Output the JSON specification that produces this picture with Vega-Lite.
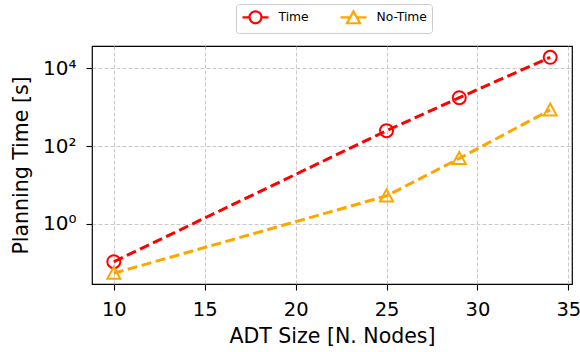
{
  "$schema": "https://vega.github.io/schema/vega-lite/v6.json",
  "autosize": "none",
  "width": 480,
  "height": 238,
  "padding": {"left": 92, "top": 46, "right": 8, "bottom": 68},
  "background": "white",
  "config": {
    "font": "DejaVu Sans",
    "view": {"stroke": "black", "strokeWidth": 1.2},
    "axis": {
      "domain": false,
      "grid": true,
      "gridColor": "#c4c4c4",
      "gridDash": [4, 2],
      "gridWidth": 0.9,
      "tickColor": "black",
      "tickSize": 6,
      "tickWidth": 1.1,
      "labelColor": "black",
      "titleColor": "black",
      "labelFont": "DejaVu Sans",
      "titleFont": "DejaVu Sans",
      "titleFontWeight": "normal"
    }
  },
  "data": {
    "values": [
      {"series": "Time", "size": 10, "time": 0.105},
      {"series": "Time", "size": 25, "time": 248},
      {"series": "Time", "size": 29, "time": 1750},
      {"series": "Time", "size": 34, "time": 19200},
      {"series": "No-Time", "size": 10, "time": 0.053},
      {"series": "No-Time", "size": 25, "time": 5.2},
      {"series": "No-Time", "size": 29, "time": 48},
      {"series": "No-Time", "size": 34, "time": 845}
    ]
  },
  "encoding": {
    "x": {
      "field": "size",
      "type": "quantitative",
      "scale": {"domain": [8.8, 35.2], "nice": false, "zero": false},
      "axis": {
        "title": "ADT Size [N. Nodes]",
        "values": [10, 15, 20, 25, 30, 35],
        "labelFontSize": 19.5,
        "titleFontSize": 20.5,
        "labelPadding": 10,
        "titlePadding": 8,
        "labelFlush": false
      }
    },
    "y": {
      "field": "time",
      "type": "quantitative",
      "scale": {"type": "log", "domain": [0.02805, 37500], "nice": false},
      "axis": {
        "title": "Planning Time [s]",
        "values": [1, 100, 10000],
        "labelExpr": "datum.value == 1 ? '10⁰' : datum.value == 100 ? '10²' : '10⁴'",
        "labelFontSize": 20,
        "titleFontSize": 20.5,
        "labelPadding": 10,
        "titlePadding": 11,
        "labelFlush": false
      }
    },
    "color": {
      "field": "series",
      "type": "nominal",
      "scale": {"domain": ["Time", "No-Time"], "range": ["#ff0000", "#ffa500"]},
      "legend": {
        "title": null,
        "orient": "none",
        "direction": "horizontal",
        "legendX": 144,
        "legendY": -42,
        "padding": 5,
        "strokeColor": "#cccccc",
        "fillColor": "white",
        "cornerRadius": 3,
        "labelFontSize": 12.3,
        "labelFont": "DejaVu Sans",
        "labelColor": "black",
        "labelOffset": 21.5,
        "columnPadding": 27,
        "symbolSize": 169,
        "symbolStrokeWidth": 2,
        "symbolDash": [],
        "encode": {
          "symbols": {
            "update": {
              "shape": {"signal": "datum.value == 'Time' ? 'M-1,0H0.08M1.92,0H3M1.92,0A0.92,0.92,0,1,1,0.08,0A0.92,0.92,0,1,1,1.92,0' : 'M-1,0H0.5M1.5,0H3M1,-0.92L2,0.9L0,0.9Z'"},
              "fill": {"value": "transparent"},
              "strokeWidth": {"value": 2.2},
              "strokeDash": {"value": []},
              "opacity": {"value": 1}
            }
          }
        }
      }
    }
  },
  "layer": [
    {
      "mark": {"type": "line", "strokeWidth": 3, "strokeDash": [10, 4.5]},
      "encoding": {}
    },
    {
      "transform": [{"filter": "datum.series == 'Time'"}],
      "mark": {"type": "point", "filled": false, "strokeWidth": 2, "size": 169, "opacity": 1, "shape": "circle"},
      "encoding": {}
    },
    {
      "transform": [{"filter": "datum.series == 'No-Time'"}],
      "mark": {"type": "point", "filled": false, "strokeWidth": 2, "size": 169, "opacity": 1, "shape": "M0,-1L1,0.85L-1,0.85Z"},
      "encoding": {}
    }
  ]
}
